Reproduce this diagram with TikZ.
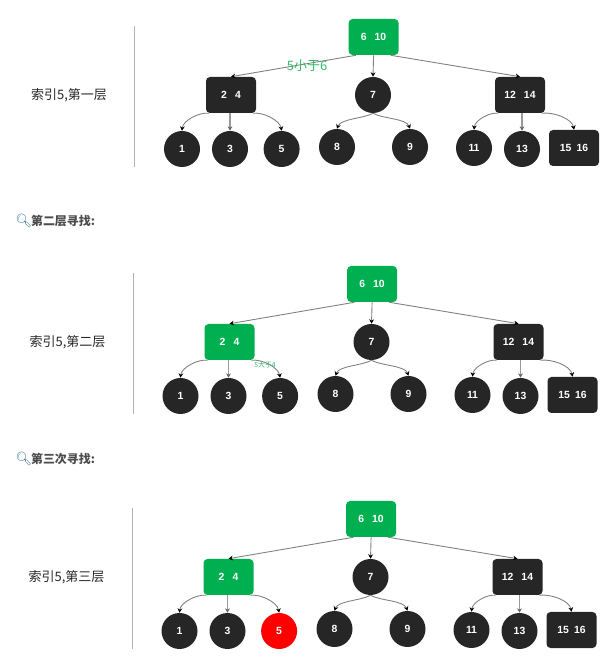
\documentclass[tikz,border=0pt]{standalone}
\usepackage{fontspec}
\setmainfont{Noto Sans CJK SC}
\newfontfamily\keyfont{Liberation Sans}
\newfontfamily\emojifont{Noto Emoji}
\usetikzlibrary{arrows.meta}
\definecolor{keydark}{HTML}{262626}
\definecolor{keygreen}{HTML}{00B050}
\definecolor{notegreen}{HTML}{2DBE64}
\definecolor{lensblue}{HTML}{4A7FA8}
\tikzset{
	keyball/.style={circle, fill=#1, text=white, minimum size=0.9cm, inner sep=0pt, font=\keyfont\fontsize{7.4}{8}\selectfont\bfseries},
	keybox/.style={rectangle, rounded corners=0.1cm, fill=#1, text=white, minimum width=1.25cm, minimum height=0.9cm, inner sep=0pt, font=\keyfont\fontsize{7.4}{8}\selectfont\bfseries},
	linkline/.style={draw=black!50, line width=0.22mm, -{Stealth[length=1.1mm,width=1.2mm,color=black]}},
	linkgray/.style={draw=black!40, line width=0.3mm, -{Stealth[length=1.1mm,width=1.2mm,color=black!60]}},
	levelrule/.style={draw=black!30, line width=0.25mm},
	levellabel/.style={font=\fontsize{9.25}{11}\selectfont, text=black!85, inner sep=0pt},
	headline/.style={font=\fontsize{8.5}{10}\selectfont\bfseries, text=black!70, inner sep=0pt, anchor=west},
	lens/.style={font=\emojifont\fontsize{9.5}{10}\selectfont, text=lensblue, inner sep=0pt, anchor=west},
	note/.style={text=notegreen, inner sep=0pt}
}
\def\searchtree[#1](#2)(#3:#4:#5){
	\begin{scope}[shift={(#2)}]
		\node[levellabel] (#1label) at (1.725, 14.225) {#3};
		\coordinate (#1top) at (3.3625, 15.95);
		\coordinate (#1bottom) at (3.3625, 12.425);
		\draw[levelrule] (#1top) -- (#1bottom);

		\node[keybox=keygreen] (#1root) at (9.34, 15.675) {6\hspace{0.2cm}10};
		\node[keybox=#4] (#1left) at (5.775, 14.225) {2\hspace{0.21cm}4};
		\node[keyball=keydark] (#1seven) at (9.325, 14.225) {7};
		\node[keybox=keydark] (#1right) at (13, 14.225) {12\hspace{0.2cm}14};

		\node[keyball=keydark] (#1one) at (4.55, 12.875) {1};
		\node[keyball=keydark] (#1three) at (5.75, 12.875) {3};
		\node[keyball=#5] (#1five) at (7.04, 12.875) {5};
		\node[keyball=keydark] (#1eight) at (8.425, 12.925) {8};
		\node[keyball=keydark] (#1nine) at (10.25, 12.925) {9};
		\node[keyball=keydark] (#1eleven) at (11.85, 12.9) {11};
		\node[keyball=keydark] (#1thirteen) at (13.05, 12.875) {13};
		\node[keybox=keydark] (#1last) at (14.35, 12.9) {15\hspace{0.13cm}16};

		\draw[linkline] (#1root.-134) -- (#1left.north);
		\draw[linkline] (#1root.south) -- (#1seven.north);
		\draw[linkline] (#1root.-47) -- (#1right.north);

		\draw[linkline] (#1left.-140) to[out=172, in=85, looseness=0.8] (#1one.north);
		\draw[linkgray] (#1three.north |- #1left.south) -- (#1three.north);
		\draw[linkline] (#1left.-40) to[out=8, in=100, looseness=0.8] (#1five.north);

		\draw[linkline] (#1seven.south) to[out=-150, in=70, looseness=0.7] (#1eight.north);
		\draw[linkline] (#1seven.south) to[out=-30, in=110, looseness=0.7] (#1nine.north);

		\draw[linkline] (#1right.-140) to[out=172, in=85, looseness=0.8] (#1eleven.north);
		\draw[linkgray] (#1thirteen.north |- #1right.south) -- (#1thirteen.north);
		\draw[linkline] (#1right.-40) to[out=8, in=100, looseness=0.8] (#1last.north);
	\end{scope}
}

\begin{document}
\begin{tikzpicture}
			%%%%% START %%%%%
			\useasboundingbox (0, 0) rectangle (15.325, 16.6);

			\searchtree[a](0, 0)(索引5,第一层:keydark:keydark)
			\node[note, font=\fontsize{9.25}{11}\selectfont] (notea) at (7.675, 14.95) {5小于6};

			\node[lens] (lensb) at (0.38, 11.07) {🔍};
			\node[headline] (headb) at (0.77, 11.07) {第二层寻找:};

			\searchtree[b](-0.0375, -6.175)(索引5,第二层:keygreen:keydark)
			\node[note, font=\fontsize{4.9}{5}\selectfont] (noteb) at (6.625, 7.475) {5大于4};

			\node[lens] (lensc) at (0.38, 5.13) {🔍};
			\node[headline] (headc) at (0.77, 5.13) {第三次寻找:};

			\searchtree[c](-0.0625, -12.05)(索引5,第三层:keygreen:red)
			%%%%% END %%%%%
		\end{tikzpicture}
\end{document}
